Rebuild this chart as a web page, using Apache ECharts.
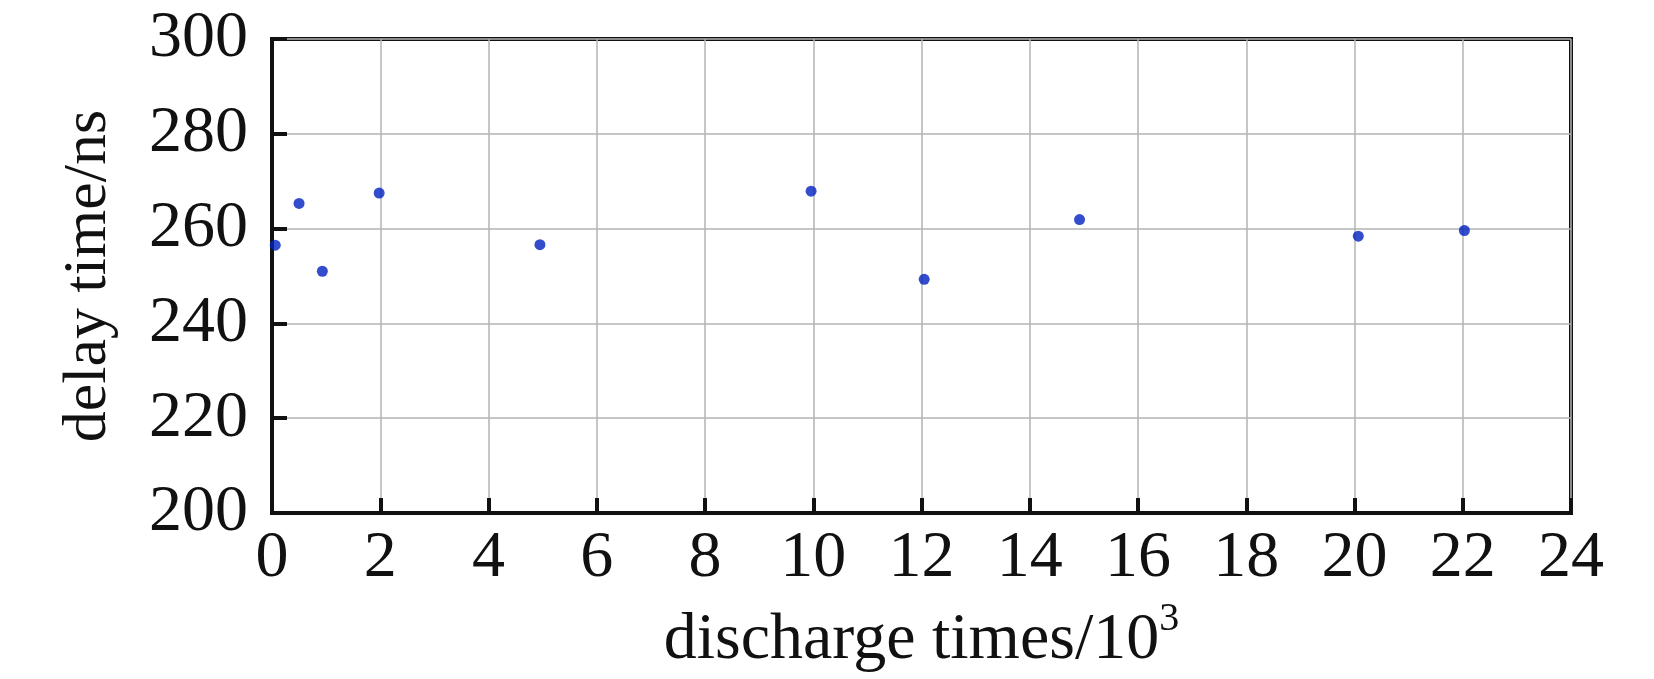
<!DOCTYPE html>
<html><head><meta charset="utf-8">
<script src="https://cdn.jsdelivr.net/npm/echarts@6/dist/echarts.min.js"></script>
<style>html,body{margin:0;padding:0;background:#fff}#c{width:1654px;height:679px}</style>
</head><body><div id="c"></div>
<script>
const dischargeTimes = [0.06, 0.5, 0.93, 1.98, 4.95, 9.96, 12.05, 14.92, 20.07, 22.03];
const delayTimes = [256.5, 265.3, 251.0, 267.5, 256.6, 267.9, 249.3, 261.9, 258.4, 259.6];
const xTicks = [0, 2, 4, 6, 8, 10, 12, 14, 16, 18, 20, 22, 24];
const yTicks = [200, 220, 240, 260, 280, 300];

const font = 'Liberation Serif';
const chart = echarts.init(document.getElementById('c'), null, {renderer: 'canvas'});
chart.setOption({
  animation: false,
  backgroundColor: '#fff',
  grid: {left: 272, top: 39, right: 83, bottom: 166, outerBoundsMode: 'none', containLabel: false,
    show: true, borderColor: '#111', borderWidth: 4, backgroundColor: 'transparent'},
  xAxis: {
    type: 'value', min: xTicks[0], max: xTicks[xTicks.length - 1], interval: 2,
    name: 'discharge times/10{sup|3}', nameLocation: 'middle', nameGap: 86,
    nameTextStyle: {fontFamily: font, fontSize: 66, color: '#111',
      rich: {sup: {fontFamily: font, fontSize: 40, color: '#111', padding: [0, 0, 44, 0]}}},
    axisLine: {show: true, onZero: false, lineStyle: {color: '#111', width: 4}},
    axisTick: {show: true, inside: true, length: 15, lineStyle: {color: '#111', width: 4}},
    axisLabel: {fontFamily: font, fontSize: 66, color: '#111', margin: 13},
    splitLine: {show: true, lineStyle: {color: '#b0b5b3', width: 1.5}}
  },
  yAxis: {
    type: 'value', min: yTicks[0], max: yTicks[yTicks.length - 1], interval: 20,
    name: 'delay time/ns', nameLocation: 'middle', nameGap: 152,
    nameTextStyle: {fontFamily: font, fontSize: 62, color: '#111'},
    axisLine: {show: true, lineStyle: {color: '#111', width: 4}},
    axisTick: {show: true, inside: true, length: 15, lineStyle: {color: '#111', width: 4}},
    axisLabel: {fontFamily: font, fontSize: 66, color: '#111', margin: 24},
    splitLine: {show: true, lineStyle: {color: '#b0b5b3', width: 1.5}}
  },
  series: [{
    type: 'scatter',
    data: dischargeTimes.map((x, i) => [x, delayTimes[i]]),
    symbol: 'circle', symbolSize: 11,
    itemStyle: {color: '#0020c0'}
  }]
});
</script></body></html>
